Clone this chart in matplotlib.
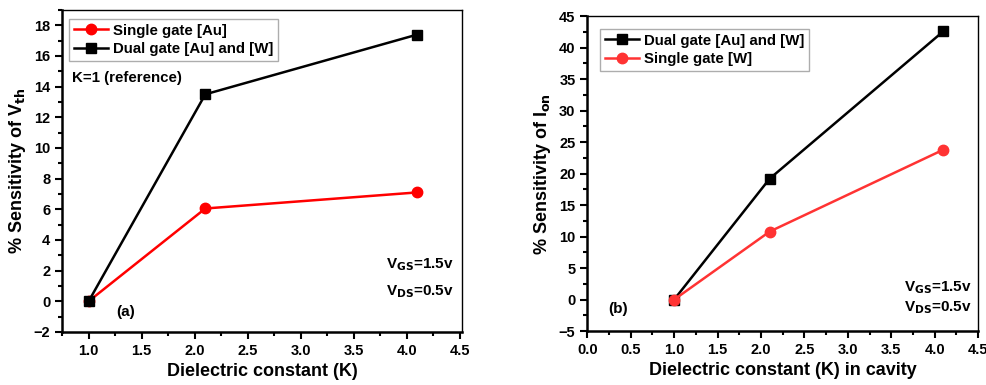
import numpy as np
import matplotlib.pyplot as plt
from matplotlib.ticker import MultipleLocator

plt.rcParams['font.family'] = ['Liberation Sans', 'DejaVu Sans']
plt.rcParams['font.weight'] = 'bold'

# data
k_vals = [1.0, 2.1, 4.1]
vth_single_au = [0.0, 6.05, 7.1]
vth_dual = [0.0, 13.5, 17.4]
ion_dual = [0.0, 19.2, 42.6]
ion_single_w = [0.0, 10.8, 23.8]

fig = plt.figure(figsize=(9.87, 3.85), dpi=100)
ax1 = fig.add_axes([0.063, 0.138, 0.405, 0.836])
ax2 = fig.add_axes([0.595, 0.140, 0.396, 0.818])


def style_axes(ax):
    ax.spines['left'].set_linewidth(1.8)
    ax.spines['bottom'].set_linewidth(1.8)
    ax.spines['top'].set_linewidth(1.0)
    ax.spines['right'].set_linewidth(1.0)
    ax.tick_params(which='both', direction='out', top=False, right=False,
                   width=1.5, labelsize=10.5)
    ax.tick_params(which='major', length=5)
    ax.tick_params(which='minor', length=3)
    for lab in ax.get_xticklabels() + ax.get_yticklabels():
        lab.set_fontweight('bold')


leg_kw = dict(frameon=True, fancybox=False, edgecolor='#999999', borderpad=0.3,
              handlelength=2.3, handletextpad=0.3, labelspacing=0.3,
              borderaxespad=0, prop={'weight': 'bold', 'size': 10.8})

# (a) threshold voltage sensitivity
ax1.plot(k_vals, vth_single_au, '-o', color='#ff0000', lw=1.8, ms=7.5,
         label='Single gate [Au]')
ax1.plot(k_vals, vth_dual, '-s', color='black', lw=1.8, ms=7,
         label='Dual gate [Au] and [W]')
ax1.set_xlim(0.75, 4.52)
ax1.set_ylim(-2, 19)
ax1.xaxis.set_minor_locator(MultipleLocator(0.25))
ax1.yaxis.set_major_locator(MultipleLocator(2))
ax1.yaxis.set_minor_locator(MultipleLocator(1))
ax1.set_xticks(np.arange(1.0, 4.51, 0.5))
ax1.set_xticklabels(['%.1f' % v for v in np.arange(1.0, 4.51, 0.5)])
ax1.set_xlabel('Dielectric constant (K)', fontsize=13, fontweight='bold')
ax1.set_ylabel('% Sensitivity of V$_{\\mathbf{th}}$', fontsize=13, fontweight='bold')
ax1.legend(loc='upper left', bbox_to_anchor=(0.018, 0.972), **leg_kw)
ax1.text(0.025, 0.79, 'K=1 (reference)', transform=ax1.transAxes,
         fontsize=10.8, fontweight='bold', va='center')
ax1.text(0.98, 0.208, 'V$_{\\mathbf{GS}}$=1.5v', transform=ax1.transAxes,
         fontsize=11, fontweight='bold', ha='right', va='center')
ax1.text(0.98, 0.124, 'V$_{\\mathbf{DS}}$=0.5v', transform=ax1.transAxes,
         fontsize=11, fontweight='bold', ha='right', va='center')
ax1.text(1.35, -0.7, '(a)', fontsize=11, fontweight='bold',
         ha='center', va='center')
style_axes(ax1)

# (b) on-current sensitivity
ax2.plot(k_vals, ion_dual, '-s', color='black', lw=1.8, ms=7,
         label='Dual gate [Au] and [W]')
ax2.plot(k_vals, ion_single_w, '-o', color='#ff3333', lw=1.8, ms=7.5,
         label='Single gate [W]')
ax2.set_xlim(0, 4.5)
ax2.set_ylim(-5, 45)
ax2.xaxis.set_major_locator(MultipleLocator(0.5))
ax2.xaxis.set_minor_locator(MultipleLocator(0.25))
ax2.yaxis.set_major_locator(MultipleLocator(5))
ax2.yaxis.set_minor_locator(MultipleLocator(2.5))
ax2.set_xticks(np.arange(0.0, 4.51, 0.5))
ax2.set_xticklabels(['%.1f' % v for v in np.arange(0.0, 4.51, 0.5)])
ax2.set_xlabel('Dielectric constant (K) in cavity', fontsize=13, fontweight='bold')
ax2.set_ylabel('% Sensitivity of I$_{\\mathbf{on}}$', fontsize=13, fontweight='bold')
ax2.legend(loc='upper left', bbox_to_anchor=(0.033, 0.959), **leg_kw)
ax2.text(0.985, 0.137, 'V$_{\\mathbf{GS}}$=1.5v', transform=ax2.transAxes,
         fontsize=11, fontweight='bold', ha='right', va='center')
ax2.text(0.985, 0.073, 'V$_{\\mathbf{DS}}$=0.5v', transform=ax2.transAxes,
         fontsize=11, fontweight='bold', ha='right', va='center')
ax2.text(0.36, -1.5, '(b)', fontsize=11, fontweight='bold',
         ha='center', va='center')
style_axes(ax2)

fig.savefig('out.png', dpi=100)
